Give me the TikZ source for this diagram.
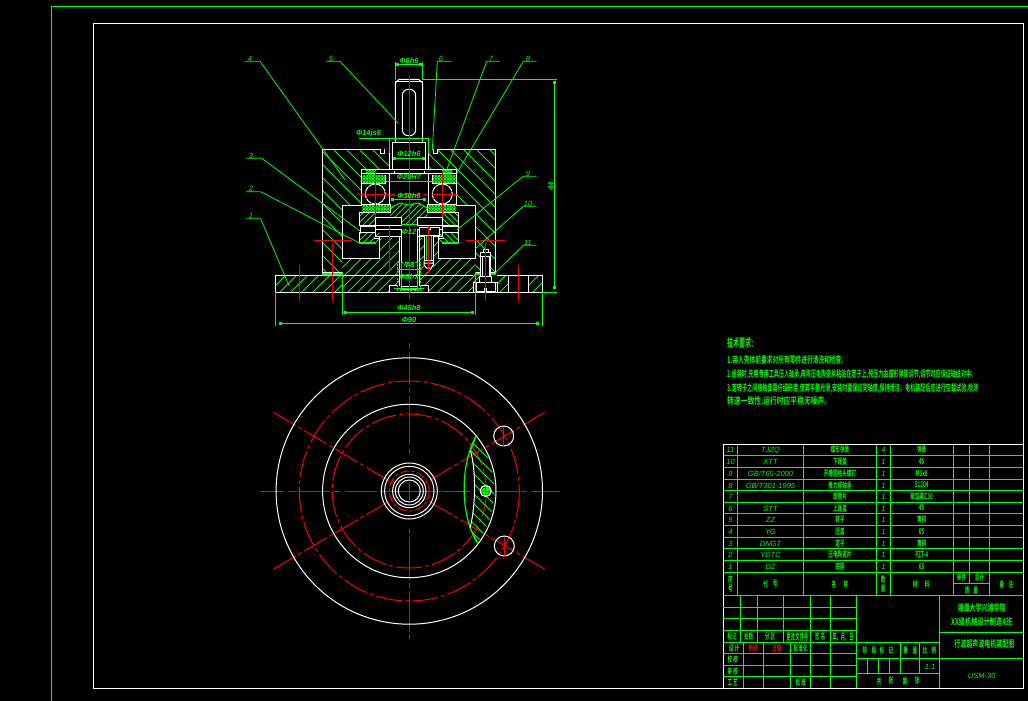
\documentclass[tikz,border=0pt]{standalone}
\usepackage{fontspec}
\setmainfont{Liberation Sans}
\newfontfamily\cjk{Noto Sans CJK SC}[BoldFont={* Bold}]
\usetikzlibrary{arrows.meta}
\definecolor{cadG}{RGB}{0,255,0}
\definecolor{cadR}{RGB}{255,0,0}
\tikzset{
 gline/.style={draw=cadG,line width=1pt},
 wline/.style={draw=white,line width=1pt},
 rline/.style={draw=cadR,line width=1pt},
 rdash/.style={draw=cadR,line width=1pt,dash pattern=on 26pt off 3pt on 4pt off 3pt},
 hatchl/.style={draw=cadG,line width=.8pt},
 dense/.style={draw=cadG,line width=.9pt},
 leader/.style={draw=cadG,line width=.8pt},
 dimline/.style={draw=cadG,line width=1pt,{Square[length=3pt,width=3pt]}-{Square[length=3pt,width=3pt]}},
 dimtext/.style={text=cadG,font=\fontsize{7.5}{8}\selectfont\bfseries\itshape,inner sep=0pt},
 cn/.style={text=cadG,font=\fontsize{8}{8}\selectfont\cjk\bfseries,inner sep=0pt},
 cnred/.style={text=cadR,font=\fontsize{8}{8}\selectfont\cjk\bfseries,inner sep=0pt},
 code/.style={text=cadG,font=\fontsize{7.5}{8}\selectfont\itshape,inner sep=0pt,yshift=-.7pt},
 notes/.style={text=cadG,anchor=west,inner sep=0pt,font=\cjk\bfseries}
}
\newcommand{\nw}[1]{\scalebox{.58}[1]{#1}}
\newcommand{\hatched}[4]{\begin{scope}\clip #1;
 \pgfmathtruncatemacro\hn{1728/#2}
 \pgfmathsetmacro\hs{#3>0?-700:0}
 \foreach \n in {0,...,\hn} \draw[#4] ({\hs+\n*#2},0) -- ++({#3*700},700);
 \end{scope}}
\newcommand{\crossed}[1]{\hatched{#1}{3}{1}{dense}\hatched{#1}{3}{-1}{dense}}
\newcommand{\fitline}[4]{\node[notes] (#1) at (727,#2) {\resizebox{#3pt}{8pt}{#4}};}
\begin{document}
\begin{tikzpicture}[x=1pt,y=-1pt]
\useasboundingbox (0,0) rectangle (1028,701);
\fill[black] (0,0) rectangle (1028,701);
% frames
\draw[gline] (51.5,701) -- (51.5,6.3) -- (1028,6.3);
\draw[wline] (93.7,23.7) rectangle (1023.3,688.3);

%%% ---------- front view: hatching ----------
\hatched{(322.3,149.3) -- (380,149.3) -- (380,153) -- (389.3,153) -- (389.3,169.3) -- (361.7,169.3) -- (361.7,205) -- (342.3,205) -- (342.3,272) -- (322.3,272) -- cycle}{13}{1}{hatchl}
\hatched{(495.7,149.3) -- (438,149.3) -- (438,153) -- (428.3,153) -- (428.3,169.3) -- (456.7,169.3) -- (456.7,205) -- (475.7,205) -- (475.7,272) -- (495.7,272) -- cycle}{13}{1}{hatchl}
\hatched{(275.3,275.3) -- (342.3,275.3) -- (342.3,292.3) -- (275.3,292.3) -- cycle}{11}{-1}{hatchl}
\hatched{(497.3,275.3) -- (508.3,275.3) -- (508.3,292.3) -- (497.3,292.3) -- cycle}{11}{-1}{hatchl}
\hatched{(473.3,275.3) -- (480,275.3) -- (480,282) -- (473.3,282) -- cycle}{6}{-1}{hatchl}
\hatched{(528.3,275.3) -- (542.7,275.3) -- (542.7,292.3) -- (528.3,292.3) -- cycle}{11}{-1}{hatchl}
\hatched{(342.3,258.3) -- (379.3,258.3) -- (379.3,238) -- (399.5,238) -- (399.5,285.7) -- (389.7,285.7) -- (389.7,292.3) -- (342.3,292.3) -- cycle}{10}{-1}{hatchl}
\hatched{(475.7,258.3) -- (438.7,258.3) -- (438.7,238) -- (418.5,238) -- (418.5,285.7) -- (428.7,285.7) -- (428.7,292.3) -- (475.7,292.3) -- cycle}{10}{-1}{hatchl}
\hatched{(390,212) -- (390,208) -- (400,203) -- (409,205) -- (418,203) -- (427.3,208) -- (427.3,217) -- (417.3,217) -- (417.3,225) -- (401,225) -- (401,217) -- (390,217) -- cycle}{6}{-1}{hatchl}
\hatched{(359.3,212.3) rectangle (375,225.7)}{6}{-1}{hatchl}
\hatched{(442.7,212.3) rectangle (458.7,225.7)}{6}{1}{hatchl}
\hatched{(359.3,232.3) rectangle (379.3,243)}{6}{-1}{hatchl}
\hatched{(438.7,232.3) rectangle (458.7,243)}{6}{1}{hatchl}
\crossed{(362.3,175) rectangle (385.7,182.7)}
\crossed{(432.7,175) rectangle (455.7,182.7)}
\crossed{(362.3,204.3) rectangle (390,211.7)}
\crossed{(427.3,204.3) rectangle (455.7,211.7)}
\crossed{(366,170.5) rectangle (376,174)}
\crossed{(442,170.5) rectangle (452,174)}

%%% ---------- front view: outlines ----------
\draw[wline] (395.3,141.7) -- (395.3,83) -- (399,79.3) -- (418.5,79.3) -- (422.7,83) -- (422.7,141.7);
\draw[wline] (395.3,81.5) -- (422.7,81.5);
\draw[wline,rounded corners=6pt] (402.3,89.3) rectangle (415.7,135.7);
\draw[wline] (392.3,169.3) -- (392.3,142) -- (425.7,142) -- (425.7,169.3);
\draw[wline] (389.3,169.3) -- (389.3,153);
\draw[wline] (428.3,169.3) -- (428.3,153);
% upper housing
\draw[wline] (342.3,272) -- (322.3,272) -- (322.3,149.3) -- (380.3,149.3) -- (380.3,153) -- (384.3,153) -- (384.3,149.3);
\draw[wline] (475.7,272) -- (495.7,272) -- (495.7,149.3) -- (437.7,149.3) -- (437.7,153) -- (433.7,153) -- (433.7,149.3);
\draw[wline] (342.3,258.3) -- (342.3,205) -- (361.7,205) -- (361.7,169.3) -- (456.7,169.3) -- (456.7,205) -- (475.7,205) -- (475.7,258.3);
\draw[wline] (361.7,173) -- (456.7,173);
\draw[wline] (389.3,173) -- (389.3,204.3);
\draw[wline] (428.3,173) -- (428.3,204.3);
\draw[wline] (385.7,175) -- (385.7,183) -- (362,183);
\draw[wline] (432.7,175) -- (432.7,183) -- (456,183);
\draw[wline] (362,204.3) -- (390,204.3) -- (390,212) -- (362,212);
\draw[wline] (427.3,212) -- (427.3,204.3) -- (456,204.3);
\draw[wline] (427.3,212) -- (456,212);
\draw[wline] (394,173) -- (394,171);
\draw[wline] (424,173) -- (424,171);
% balls
\draw[wline,dash pattern=on 6pt off .7pt] (375.3,194) circle (10);
\draw[wline,dash pattern=on 6pt off .7pt] (442.3,194) circle (10);
% rotor / stator stack
\draw[wline] (359.3,212.3) rectangle (375,225.7);
\draw[wline] (442.7,212.3) rectangle (458.7,225.7);
\draw[wline] (375,217.3) rectangle (401,225);
\draw[wline] (417.3,217.3) rectangle (442.7,225);
\draw[wline] (360.7,226.5) rectangle (375,232);
\draw[wline] (442.7,226.5) rectangle (458,232);
\draw[wline] (375,229.3) rectangle (401,236);
\draw[wline] (417.3,229.3) rectangle (442.7,236);
\draw[wline] (359.3,232.3) -- (359.3,243) (379.3,236) -- (379.3,258.3) -- (342.3,258.3);
\draw[wline] (458.7,232.3) -- (458.7,243) (438.7,236) -- (438.7,258.3) -- (475.7,258.3);
\draw[gline,line width=1.6pt] (359.3,243) -- (376,243) (442,243) -- (458.7,243);
\draw[wline] (374,238) -- (379,238) (379,238) -- (379,243);
\draw[wline] (439,238) -- (444,238);
\draw[gline] (390,208) -- (400,203) -- (409,205) -- (418,203) -- (427.3,208);
% bore
\draw[wline] (399.3,236) -- (399.3,285.7) (401,236) -- (401,285.7);
\draw[wline] (417.3,236) -- (417.3,285.7) (419,236) -- (419,285.7);
\draw[gline] (401,224.5) -- (417.3,224.5);
\draw[gline,dash pattern=on 2pt off 1.5pt] (397.3,290) -- (397.3,262.3) -- (420.7,262.3) -- (420.7,290) -- cycle;
\draw[gline] (397.3,269) -- (420.7,269) (401,289) -- (401,262.3) (417.3,289) -- (417.3,262.3);
\draw[wline] (389.7,292.3) -- (389.7,285.7) -- (397.3,285.7) (428.7,292.3) -- (428.7,285.7) -- (420.7,285.7);
\draw[wline] (401,286) -- (417.3,286) (401,289) -- (417.3,289);
\draw[gline] (394,288.3) -- (424,288.3);
% inner bolt
\fill[black] (419,227.3) rectangle (439,235.7);
\draw[wline] (419,235.7) -- (419,227.3) -- (428,227.3) -- (428,229.5) -- (430,229.5) -- (430,227.3) -- (439,227.3) -- (439,235.7) -- cycle;
\fill[black] (424,236) rectangle (433.3,268);
\draw[gline] (426,236) -- (426,261) (431.5,236) -- (431.5,261);
\draw[wline] (424,236) -- (424,260.5) -- (433.3,260.5) -- (433.3,236);
\draw[wline] (424,260.5) -- (424,265) -- (426.5,268) -- (431,268) -- (433.3,265) -- (433.3,260.5) (424,263) -- (433.3,263);
% base plate
\draw[wline] (473.3,275.3) -- (275.3,275.3) -- (275.3,292.3) -- (473.3,292.3);
\draw[wline] (497.3,275.3) -- (542.7,275.3) -- (542.7,292.3) -- (497.3,292.3);
\draw[gline,line width=2pt] (322.3,274) -- (342.3,274) (475.7,274) -- (480,274) (491,274) -- (495.7,274);
\draw[wline] (508.3,275.3) -- (508.3,292.3) (528.3,275.3) -- (528.3,292.3);
% outer bolt
\fill[black] (480.7,249) rectangle (490.7,282);
\draw[wline] (483.3,252) -- (483.3,249.3) -- (488.3,249.3) -- (488.3,252);
\draw[wline] (480.7,256.7) -- (480.7,252) -- (490.7,252) -- (490.7,256.7) -- cycle;
\draw[wline] (480.7,256.7) -- (480.7,276.7) -- (490.7,276.7) -- (490.7,256.7);
\draw[wline] (482.5,257) -- (482.5,276.7) (489,257) -- (489,276.7);
\fill[black] (473.3,282.3) rectangle (497.3,292.3);
\draw[wline] (473.3,292.3) -- (497.3,292.3);
\draw[wline] (479.3,282) -- (479.3,276.7) -- (491.7,276.7) -- (491.7,282);
\draw[wline] (473.3,292.3) -- (473.3,282.3) -- (497.3,282.3) -- (497.3,292.3);
\draw[wline] (476,282.3) -- (476,291) -- (484,291) -- (484,288.5) -- (486.6,288.5) -- (486.6,291) -- (495,291) -- (495,282.3);

%%% ---------- front view: centre lines ----------
\draw[rline] (409.3,76) -- (409.3,300);
\draw[rline] (375.3,171.7) -- (375.3,216.7) (442.3,171.7) -- (442.3,216.7);
\draw[rline] (359.3,194) -- (389,194) (390,194) -- (395,194) (398,194) -- (420,194) (423,194) -- (428,194) (432,194) -- (458.3,194);
\draw[rline] (314,240.3) -- (351.7,240.3) (466,240.3) -- (505,240.3);
\draw[rline] (332.3,243) -- (332.3,300.7) (299.3,265) -- (299.3,300.7) (518.3,265) -- (518.3,300.7);
\draw[rline] (485.3,242) -- (485.3,300.7);
\draw[rline] (389.3,226) -- (389.3,271.7) (428.3,226) -- (428.3,273);

%%% ---------- dimensions ----------
\draw[gline] (395.3,80) -- (395.3,62) (422.7,80) -- (422.7,62);
\draw[dimline] (396,64.3) -- (422,64.3);
\node[dimtext] (dTop) at (409,60.5) {Φ6h6};
\draw[gline] (422.7,79.3) -- (557,79.3);
\draw[dimline] (554.3,81) -- (554.3,289.3);
\draw[gline] (542.7,292.3) -- (557,292.3);
\node[dimtext,rotate=90] (dH) at (551,186) {44};
\draw[gline] (359,138.3) -- (428.3,138.3);
\draw[gline] (389.3,138.3) -- (389.3,153) (428.3,138.3) -- (428.3,153);
\node[dimtext] (dA) at (368.5,134) {Φ14js6};
\draw[dimline] (393,158) -- (425,158);
\node[dimtext] (dB) at (409,153.5) {Φ12h6};
\draw[gline] (385.7,181) -- (432.7,181);
\node[dimtext] (dC) at (409,177) {Φ20H7};
\draw[dimline] (391,199.3) -- (426,199.3);
\node[dimtext] (dD) at (409,196) {Φ30h6};
\node[dimtext] (dE) at (409,232) {Φ12};
\node[dimtext] (dF) at (409,265) {Φ8};
\node[dimtext] (dG) at (409,277) {Φ8h7};
\draw[gline] (342.3,272) -- (342.3,314.5) (475.7,272) -- (475.7,314.5);
\draw[dimline] (344,312.7) -- (474,312.7);
\node[dimtext] (dJ) at (409,308) {Φ45h8};
\draw[gline] (275.3,292.3) -- (275.3,325.5) (542.7,292.3) -- (542.7,325.5);
\draw[dimline] (279,323.3) -- (539,323.3);
\node[dimtext] (dK) at (409,319.5) {Φ90};

%%% ---------- leaders ----------
\draw[leader] (245,61.3) -- (260,61.3) -- (345,180);
\node[code] (n4) at (250,58.5) {4};
\draw[leader] (326,61.3) -- (340,61.3) -- (398.3,123.3);
\node[code] (n5) at (331,58.5) {5};
\draw[leader] (451.7,61.3) -- (437.3,61.3) -- (432.3,150);
\node[code] (n6) at (441,58.5) {6};
\draw[leader] (500,61.3) -- (486.7,61.3) -- (446,171.7);
\node[code] (n7) at (491,58.5) {7};
\draw[leader] (536.7,61.3) -- (523.3,61.3) -- (456.7,173.3);
\node[code] (n8) at (528,58.5) {8};
\draw[leader] (246,158.3) -- (261.7,158.3) -- (360,231);
\node[code] (n3) at (251,155.5) {3};
\draw[leader] (246,191.7) -- (260.7,191.7) -- (360,243.3);
\node[code] (n2) at (251,188.5) {2};
\draw[leader] (246,218.7) -- (260.7,218.7) -- (289,285.7);
\node[code] (n1) at (251,215.5) {1};
\draw[leader] (536.7,176.3) -- (523.3,176.3) -- (456.7,230);
\node[code] (n9) at (528,173) {9};
\draw[leader] (536.7,206.3) -- (523.3,206.3) -- (475,249);
\node[code] (n10) at (528,203) {10};
\draw[leader] (536.7,245.3) -- (523.3,245.3) -- (495,273.3);
\node[code] (n11) at (528,242) {11};

%%% ---------- top view ----------
\coordinate (C) at (409.3,491);
\draw[rline] (409.3,343) -- (409.3,349) (409.3,352) -- (409.3,385) (409.3,388) -- (409.3,393) (409.3,396) -- (409.3,445) (409.3,449) -- (409.3,453);
\draw[rline] (409.3,529) -- (409.3,533) (409.3,537) -- (409.3,580) (409.3,583) -- (409.3,588) (409.3,591) -- (409.3,632) (409.3,635) -- (409.3,639);
\draw[rline] (260,491) -- (284,491) (288,491) -- (297,491) (300,491) -- (330,491) (334,491) -- (341,491) (345,491) -- (377,491) (380,491) -- (440,491);
\draw[rline] (441,491) -- (470,491) (480,491) -- (485,491) (495,491) -- (518,491) (521,491) -- (527,491) (531,491) -- (560,491);
\draw[rdash] (273.3,412.3) -- (393,483) (545,412.3) -- (425,483);
\draw[rdash] (273.3,569.3) -- (393,499) (545,569.3) -- (425,499);
\draw[rdash] (C) circle (110);
\draw[rdash] (C) circle (77);
\draw[wline] (C) circle (133.2);
\draw[wline] (C) circle (86.7);
\draw[wline] (C) circle (28);
\draw[wline] (C) circle (24.7);
\draw[rline,dash pattern=on 9pt off 2.5pt on 3pt off 2.5pt] (C) circle (20);
\draw[wline] (C) circle (16.7);
\draw[wline] (C) circle (14);
\draw[wline] (C) circle (11);
\draw[rline] (400,491) -- (418,491) (409.3,482) -- (409.3,500);
% section lens
\hatched{(476,436) -- (470.5,451) .. controls (476,470) and (476,505) .. (470,528) -- (477.3,542.7) .. controls (500,510) and (500,470) .. (476,436) -- cycle}{10}{1}{hatchl}
\draw[gline,line width=1.2pt] (476,436) .. controls (460,465) and (460,515) .. (477.3,542.7);
\draw[gline] (476,436) -- (470.5,451) (470,528) -- (477.3,542.7);
\draw[wline] (470.5,451) .. controls (476,470) and (476,505) .. (470,528);
% threaded hole and through holes
\fill[cadG] (485.7,491) circle (4);
\draw[wline,line width=1.2pt] (485.7,491) circle (5.5);
\draw[rline] (481.5,491) -- (490,491) (485.7,487) -- (485.7,495);
\draw[wline] (503.7,436) circle (10);
\draw[wline] (504.3,546) circle (10);
\draw[rline] (503.7,427) -- (503.7,447) (504.3,537) -- (504.3,557);

%%% ---------- notes ----------
\node[notes] (nt) at (727,343) {\resizebox{26pt}{10pt}{技术要求:}};
\fitline{l1}{360}{120}{1.装入壳体前要求对所有零件进行清洗和检查。}
\fitline{l2}{374}{249}{2.组装时,先用专用工具压入轴承,再将压电陶瓷片粘贴在定子上,预压力由蝶形弹簧调节,调节时应保证轴线对中。}
\fitline{l3}{388}{251}{3.定转子之间接触面需仔细研磨,使其平整光滑,安装时要保证同轴度,保持清洁。电机装配后应进行空载试验,检测}
\fitline{l4}{401}{104}{转速一致性,运行时应平稳无噪声。}

%%% ---------- parts list ----------
\foreach \yy in {455.3,467.3,479.3,490.7,502.3,513.7,525.3,537.3,548.7,560.3,572.3,595.3}
  \draw[gline] (723.3,\yy) -- (1023.3,\yy);
\foreach \xx in {737.3,803.3,876.3,890.3,953.3,989.3}
  \draw[gline] (\xx,444) -- (\xx,595.3);
\draw[gline] (969.3,444) -- (969.3,583.3) (953.3,583.3) -- (989.3,583.3);
\draw[wline] (723.3,444) -- (1023.3,444);
\draw[wline] (723.3,444) -- (723.3,688.3);
\foreach \yy/\aa/\bb/\cc/\dd/\ee [count=\i] in {
 449.7/11/TJZQ/蝶形弹簧/4/弹簧,
 461.3/10/XTT/下端盖/1/45,
 473.3/9/GB\slash T65-2000/开槽圆柱头螺钉/1/M3x8,
 485/8/GB\slash T301-1995/推力球轴承/1/51204,
 496.5/7/{}/摩擦片/1/聚四氟C30,
 508/6/STT/上端盖/1/45,
 519.5/5/ZZ/转子/1/黄铜,
 531.3/4/YG/压盖/1/65,
 543/3/DNGT/定子/1/黄铜,
 554.5/2/YDTC/压电陶瓷片/1/PZT-4,
 566.3/1/DZ/底座/1/65}{
 \node[code] (pa\i) at (730.5,\yy) {\aa};
 \node[code] (pb\i) at (770.5,\yy) {\bb};
 \node[cn] (pc\i) at (840,\yy) {\nw{\cc}};
 \node[code] (pd\i) at (883.5,\yy) {\dd};
 \node[cn] (pe\i) at (921.7,\yy) {\nw{\ee}};
}
\node[cn] (h1) at (730.5,579.3) {\nw{序}};
\node[cn] (h2) at (730.5,588.5) {\nw{号}};
\node[cn] (h3) at (765.7,584) {\nw{代}};
\node[cn] (h4) at (775.3,584) {\nw{号}};
\node[cn] (h5) at (834,584) {\nw{名}};
\node[cn] (h6) at (846,584) {\nw{称}};
\node[cn] (h7) at (883.3,579.3) {\nw{数}};
\node[cn] (h8) at (883.3,588.5) {\nw{量}};
\node[cn] (h9) at (915.3,584) {\nw{材}};
\node[cn] (h10) at (927.3,584) {\nw{料}};
\node[cn] (h11) at (961.5,577.5) {\nw{单件}};
\node[cn] (h12) at (979.5,577.5) {\nw{总计}};
\node[cn] (h13) at (967.3,590) {\nw{质}};
\node[cn] (h14) at (975.7,590) {\nw{量}};
\node[cn] (h15) at (1002,584) {\nw{备}};
\node[cn] (h16) at (1010.7,584) {\nw{注}};

%%% ---------- title block ----------
\foreach \yy in {607.3,618.3,630.3,642.3,653.3,665.3,676.3}
  \draw[gline] (723.3,\yy) -- (856.3,\yy);
\foreach \xx in {740.3,757.3,783.3,810.3,830.3}
  \draw[gline] (\xx,595.3) -- (\xx,642.3);
\foreach \xx in {743.7,763.3,790.3,810.3,830.3}
  \draw[gline] (\xx,642.3) -- (\xx,688.3);
\draw[gline] (856.3,595.3) -- (856.3,688.3) (939.3,595.3) -- (939.3,688.3);
\draw[gline] (856.3,642.3) -- (939.3,642.3) (856.3,658.3) -- (939.3,658.3) (856.3,673.3) -- (939.3,673.3);
\draw[gline] (900.3,642.3) -- (900.3,673.3) (919.3,642.3) -- (919.3,673.3);
\draw[gline] (867.3,658.3) -- (867.3,673.3) (878.3,658.3) -- (878.3,673.3) (889.3,658.3) -- (889.3,673.3);
\draw[gline] (939.3,632.3) -- (1023.3,632.3) (939.3,658.3) -- (1023.3,658.3);
\draw[wline] (1023.3,444) -- (1023.3,688.3) (723.3,688.3) -- (1023.3,688.3);
\node[cn] (t1) at (732,636.7) {\nw{标记}};
\node[cn] (t2) at (748.7,636.7) {\nw{处数}};
\node[cn] (t3) at (770,636.7) {\nw{分\ 区}};
\node[cn] (t4) at (797.3,636.7) {\resizebox{22pt}{8pt}{更改文件号}};
\node[cn] (t5) at (820,636.7) {\nw{签\ 名}};
\node[cn] (t6) at (843,636.7) {\resizebox{21pt}{8pt}{年、月、日}};
\node[cn] (t7) at (734,648.3) {\nw{设\ 计}};
\node[cnred] (t8) at (753.3,648.3) {\nw{杨晓}};
\node[cnred] (t9) at (776.7,648.3) {\nw{日期}};
\node[cn] (t10) at (800.7,648.3) {\nw{标准化}};
\node[cn] (t11) at (732.7,659.3) {\nw{校\ 核}};
\node[cn] (t12) at (732.7,671) {\nw{审\ 核}};
\node[cn] (t13) at (732.7,682.7) {\nw{工\ 艺}};
\node[cn] (t14) at (800.7,682.7) {\nw{批\ 准}};
\node[cn] (t15a) at (865,650) {\nw{阶}};
\node[cn] (t15b) at (874,650) {\nw{段}};
\node[cn] (t15c) at (882,650) {\nw{标}};
\node[cn] (t15d) at (891,650) {\nw{记}};
\node[cn] (t16a) at (905.7,650) {\nw{重}};
\node[cn] (t16b) at (915,650) {\nw{量}};
\node[cn] (t17a) at (925,650) {\nw{比}};
\node[cn] (t17b) at (934,650) {\nw{例}};
\node[code] (t18) at (930,666) {1:1};
\node[cn] (t19) at (879.3,681) {\nw{共}};
\node[cn] (t20) at (891,681) {\nw{张}};
\node[cn] (t21) at (905,681) {\nw{第}};
\node[cn] (t22) at (917.3,681) {\nw{张}};
\node[cn] (t23) at (981.7,608.3) {\resizebox{48pt}{8pt}{湘潭大学兴湘学院}};
\node[cn] (t24) at (981.7,622.3) {\resizebox{61pt}{8pt}{XX级机械设计制造4班}};
\node[cn] (t25) at (984.3,644.3) {\resizebox{60pt}{8pt}{行波超声波电机装配图}};
\node[code] (t26) at (981.7,675.7) {USM-30};
\end{tikzpicture}
\end{document}
